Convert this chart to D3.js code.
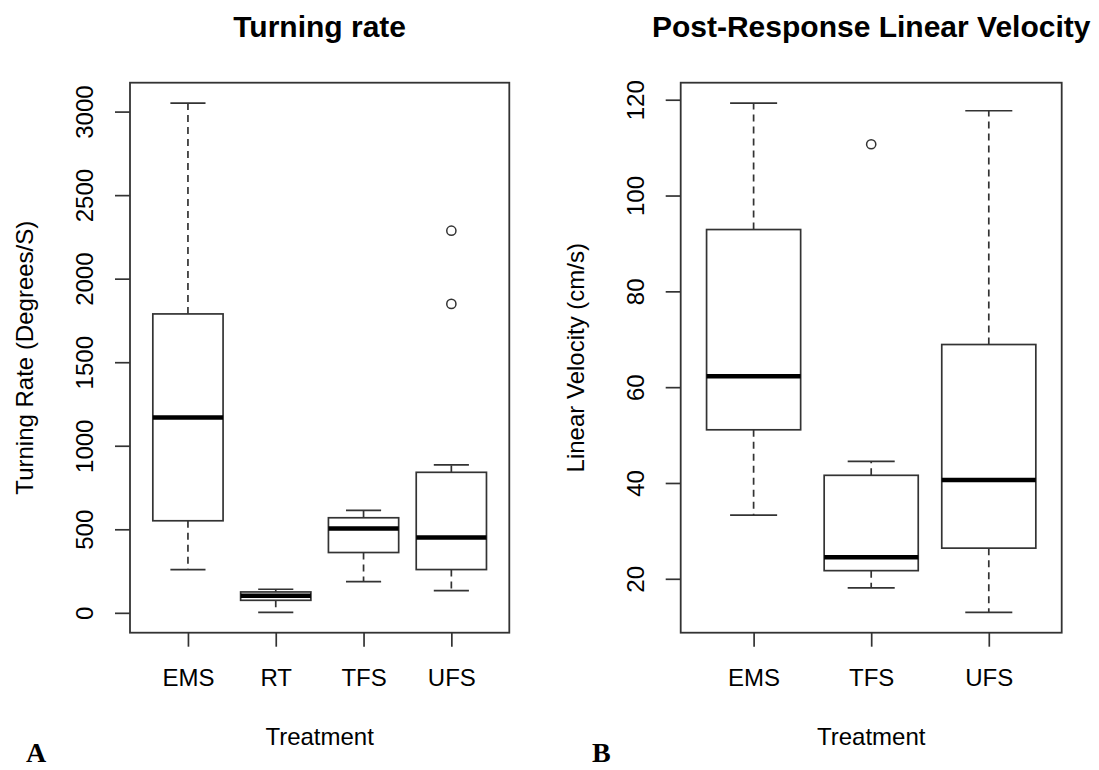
<!DOCTYPE html>
<html>
<head>
<meta charset="utf-8">
<script src="https://cdn.jsdelivr.net/npm/d3@7"></script>
<style>
  html, body { margin: 0; padding: 0; background: #fff; }
  svg { display: block; }
  text { font-family: "Liberation Sans", Arial, sans-serif; fill: #000; }
</style>
</head>
<body>
<svg id="chart" width="1099" height="770"></svg>
<script>
// ---- Panel A: turning rate (degrees/s) ----
const turnCategories = ["EMS", "RT", "TFS", "UFS"];
const turnLow      = [259, 3, 187, 133];
const turnQ1       = [551, 75, 361, 259];
const turnMedian   = [1169, 102, 505, 451];
const turnQ3       = [1789, 125, 569, 841];
const turnHigh     = [3051, 141, 613, 885];
const turnOutliers = [[], [], [], [2287, 1849]];
const turnTicks    = [0, 500, 1000, 1500, 2000, 2500, 3000];

// ---- Panel B: post-response linear velocity (cm/s) ----
const velCategories = ["EMS", "TFS", "UFS"];
const velLow      = [33.3, 18.1, 13.0];
const velQ1       = [51.1, 21.7, 26.4];
const velMedian   = [62.3, 24.5, 40.6];
const velQ3       = [92.9, 41.6, 68.9];
const velHigh     = [119.3, 44.5, 117.7];
const velOutliers = [[], [110.7], []];
const velTicks    = [20, 40, 60, 80, 100, 120];

const svg = d3.select("#chart");
const LINE = "#333";

function boxPanel(cfg) {
  const n = cfg.categories.length;
  const allVals = cfg.low.concat(cfg.high, cfg.outliers.flat());
  const lo = d3.min(allVals), hi = d3.max(allVals);
  const padY = (hi - lo) * 0.04;
  const padX = n * 0.04;

  const y = d3.scaleLinear().domain([lo - padY, hi + padY]).range([cfg.bottom, cfg.top]);
  const x = d3.scaleLinear().domain([0.5 - padX, n + 0.5 + padX]).range([cfg.left, cfg.right]);
  const boxW = x(1.8) - x(1);          // 0.8 of a category slot
  const g = svg.append("g");

  const data = cfg.categories.map((c, i) => ({
    i: i + 1, low: cfg.low[i], q1: cfg.q1[i], med: cfg.median[i],
    q3: cfg.q3[i], high: cfg.high[i], out: cfg.outliers[i]
  }));

  const item = g.selectAll("g.box").data(data).join("g").attr("class", "box");

  // dashed whiskers from the hinges outwards
  item.selectAll("line.whisker")
    .data(d => [[d.q3, d.high, d.i], [d.q1, d.low, d.i]])
    .join("line")
    .attr("x1", d => x(d[2])).attr("x2", d => x(d[2]))
    .attr("y1", d => y(d[0])).attr("y2", d => y(d[1]))
    .attr("stroke", LINE).attr("stroke-width", 1.7)
    .attr("stroke-dasharray", "7,5");

  // whisker caps (half box width)
  item.selectAll("line.cap")
    .data(d => [[d.high, d.i], [d.low, d.i]])
    .join("line")
    .attr("x1", d => x(d[1]) - boxW / 4).attr("x2", d => x(d[1]) + boxW / 4)
    .attr("y1", d => y(d[0])).attr("y2", d => y(d[0]))
    .attr("stroke", LINE).attr("stroke-width", 1.7);

  // box
  item.append("rect")
    .attr("x", d => x(d.i) - boxW / 2)
    .attr("y", d => y(d.q3))
    .attr("width", boxW)
    .attr("height", d => y(d.q1) - y(d.q3))
    .attr("fill", "#fff")
    .attr("stroke", LINE).attr("stroke-width", 1.7);

  // median
  item.append("line")
    .attr("x1", d => x(d.i) - boxW / 2).attr("x2", d => x(d.i) + boxW / 2)
    .attr("y1", d => y(d.med)).attr("y2", d => y(d.med))
    .attr("stroke", "#000").attr("stroke-width", 4.5);

  // outliers
  item.selectAll("circle")
    .data(d => d.out.map(v => [v, d.i]))
    .join("circle")
    .attr("cx", d => x(d[1])).attr("cy", d => y(d[0]))
    .attr("r", 4.6)
    .attr("fill", "none").attr("stroke", LINE).attr("stroke-width", 1.5);

  // frame
  g.append("rect")
    .attr("x", cfg.left).attr("y", cfg.top)
    .attr("width", cfg.right - cfg.left).attr("height", cfg.bottom - cfg.top)
    .attr("fill", "none").attr("stroke", LINE).attr("stroke-width", 1.8);

  // y axis with rotated labels
  const yAx = g.append("g")
    .attr("transform", `translate(${cfg.left},0)`)
    .call(d3.axisLeft(y).tickValues(cfg.ticks).tickSize(15).tickFormat(d3.format("d")));
  yAx.select(".domain").remove();
  yAx.selectAll(".tick line").attr("stroke", LINE).attr("stroke-width", 1.7);
  yAx.selectAll(".tick text")
    .attr("transform", "rotate(-90)")
    .attr("x", 0).attr("y", -37).attr("dy", 0)
    .attr("text-anchor", "middle")
    .style("font-size", "24px").style("font-family", "'Liberation Sans', Arial, sans-serif").attr("fill", "#000");

  // x axis
  const xAx = g.append("g")
    .attr("transform", `translate(0,${cfg.bottom})`)
    .call(d3.axisBottom(x).tickValues(d3.range(1, n + 1)).tickSize(14)
      .tickFormat(d => cfg.categories[d - 1]));
  xAx.select(".domain").remove();
  xAx.selectAll(".tick line").attr("stroke", LINE).attr("stroke-width", 1.7);
  xAx.selectAll(".tick text")
    .attr("y", 53).attr("dy", 0)
    .style("font-size", "24px").style("font-family", "'Liberation Sans', Arial, sans-serif").attr("fill", "#000");

  const cx = (cfg.left + cfg.right) / 2;
  const cy = (cfg.top + cfg.bottom) / 2;

  // title
  g.append("text").attr("x", cx).attr("y", 37).attr("text-anchor", "middle")
    .style("font-size", "30px").style("font-weight", "bold").text(cfg.title);
  // axis titles
  g.append("text").attr("x", cx).attr("y", 745).attr("text-anchor", "middle")
    .style("font-size", "24px").text("Treatment");
  g.append("text")
    .attr("transform", `translate(${cfg.left - 97},${cy}) rotate(-90)`)
    .attr("text-anchor", "middle")
    .style("font-size", "24px").text(cfg.ylabel);
  // panel letter
  g.append("text").attr("x", cfg.letterX).attr("y", 762)
    .style("font-family", "'Liberation Serif', 'DejaVu Serif', serif")
    .style("font-size", "28px").style("font-weight", "bold").text(cfg.letter);
}

boxPanel({
  categories: turnCategories, low: turnLow, q1: turnQ1, median: turnMedian,
  q3: turnQ3, high: turnHigh, outliers: turnOutliers, ticks: turnTicks,
  left: 130, right: 509.3, top: 82.7, bottom: 632.7,
  title: "Turning rate", ylabel: "Turning Rate (Degrees/S)",
  letter: "A", letterX: 26
});

boxPanel({
  categories: velCategories, low: velLow, q1: velQ1, median: velMedian,
  q3: velQ3, high: velHigh, outliers: velOutliers, ticks: velTicks,
  left: 680.7, right: 1061.7, top: 82.7, bottom: 632.7,
  title: "Post-Response Linear Velocity", ylabel: "Linear Velocity (cm/s)",
  letter: "B", letterX: 592
});
</script>
</body>
</html>
